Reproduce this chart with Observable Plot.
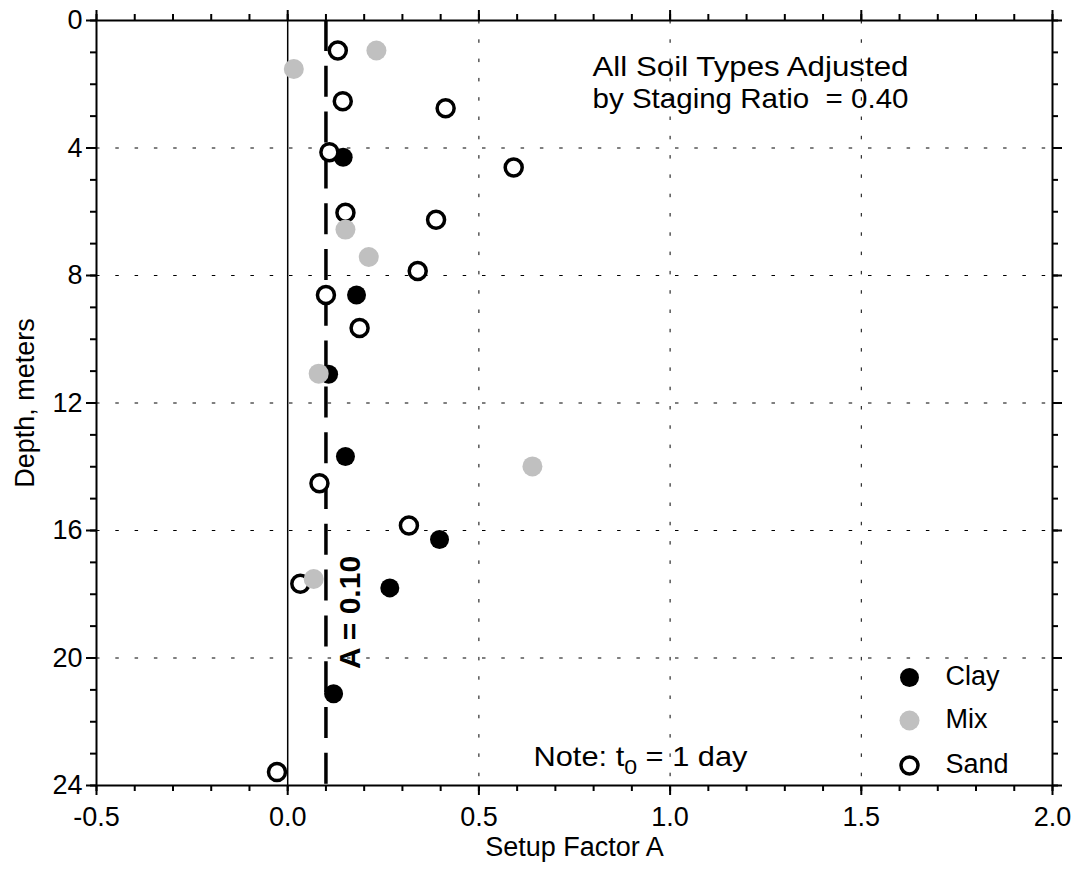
<!DOCTYPE html>
<html>
<head>
<meta charset="utf-8">
<script src="https://cdn.jsdelivr.net/npm/d3@7"></script>
<script src="https://cdn.jsdelivr.net/npm/@observablehq/plot@0.6"></script>
<style>
  body { margin: 0; background: #fff; }
  #chart svg { display: block; }
</style>
</head>
<body>
<div id="chart"></div>
<script>
// ---- Data (Setup Factor A vs depth in meters) ----
const clayA     = [0.145, 0.180, 0.107, 0.151, 0.397, 0.267, 0.120];
const clayDepth = [4.29, 8.61, 11.10, 13.68, 16.28, 17.80, 21.12];

const mixA      = [0.232, 0.016, 0.151, 0.212, 0.081, 0.640, 0.068];
const mixDepth  = [0.94, 1.52, 6.56, 7.42, 11.08, 13.99, 17.52];

const sandA     = [0.131, 0.144, 0.413, 0.109, 0.591, 0.151, 0.388, 0.340, 0.100, 0.188, 0.083, 0.317, 0.033, -0.028];
const sandDepth = [0.94, 2.53, 2.75, 4.13, 4.61, 6.03, 6.25, 7.86, 8.61, 9.65, 14.52, 15.84, 17.67, 23.58];

const soilTypes   = ["Clay", "Mix", "Sand"];
const xDomain     = [-0.5, 2.0];
const yDomain     = [0, 24];
const xMajorTicks = [-0.5, 0.0, 0.5, 1.0, 1.5, 2.0];
const yMajorTicks = [0, 4, 8, 12, 16, 20, 24];
const xGridTicks  = [0.5, 1.0, 1.5];
const yGridTicks  = [4, 8, 12, 16, 20];
const refA        = 0.10;
const refLabel    = "A = 0.10";
const noteText    = "Note: t0 = 1 day";
const annotLines  = ["All Soil Types Adjusted", "by Staging Ratio\u00a0 = 0.40"];
const xLabel      = "Setup Factor A";
const yLabel      = "Depth, meters";

// minor tick positions
const xMinorTicks = d3.range(-5, 21).map(i => i / 10);
const yMinorTicks = d3.range(0, 25);

const toRows = (type, A, D) => A.map((a, i) => ({type, A: a, depth: D[i]}));
const rows = {
  Clay: toRows("Clay", clayA, clayDepth),
  Mix:  toRows("Mix", mixA, mixDepth),
  Sand: toRows("Sand", sandA, sandDepth)
};

const symbolStyle = {
  Clay: {r: 9.5, fill: "#000000", stroke: "none", strokeWidth: 0},
  Mix:  {r: 10,  fill: "#c0c0c0", stroke: "none", strokeWidth: 0},
  Sand: {r: 8.5, fill: "#ffffff", stroke: "#000000", strokeWidth: 3.5}
};

const FONT = "'Liberation Sans', Arial, Helvetica, sans-serif";
const legendDy = {Clay: -108, Mix: -65, Sand: -20};
const [x0, x1] = xDomain;
const [y0, y1] = yDomain;

const marks = [
  // grid
  Plot.ruleX(xGridTicks, {stroke: "#000", strokeWidth: 1, strokeDasharray: "3.5,15.8"}),
  Plot.ruleY(yGridTicks, {stroke: "#000", strokeWidth: 1, strokeDasharray: "3.5,15.8"}),
  // reference lines
  Plot.ruleX([0], {stroke: "#000", strokeWidth: 1.5}),
  Plot.ruleX([refA], {stroke: "#000", strokeWidth: 3.5, strokeDasharray: "31,14.8"}),
  // data
  Plot.dot(rows.Clay, {x: "A", y: "depth", ...symbolStyle.Clay}),
  Plot.dot(rows.Sand, {x: "A", y: "depth", ...symbolStyle.Sand}),
  Plot.dot(rows.Mix,  {x: "A", y: "depth", ...symbolStyle.Mix}),
  Plot.text([refLabel], {x: refA, y: y1, dx: 24.5, dy: -173, rotate: -90,
    fontSize: 30, fontWeight: "bold", textAnchor: "middle", lineAnchor: "middle", fill: "#000"}),
  // ticks: bottom / top
  Plot.ruleX(xMinorTicks, {y1: y1, y2: y1, insetBottom: -6, strokeWidth: 2}),
  Plot.ruleX(xMajorTicks, {y1: y1, y2: y1, insetBottom: -10, strokeWidth: 2}),
  Plot.ruleX(xMinorTicks, {y1: y0, y2: y0, insetTop: -6, strokeWidth: 2}),
  Plot.ruleX(xMajorTicks, {y1: y0, y2: y0, insetTop: -10, strokeWidth: 2}),
  // ticks: left / right
  Plot.ruleY(yMinorTicks, {x1: x0, x2: x0, insetLeft: -6, strokeWidth: 2}),
  Plot.ruleY(yMajorTicks, {x1: x0, x2: x0, insetLeft: -10, strokeWidth: 2}),
  Plot.ruleY(yMinorTicks, {x1: x1, x2: x1, insetRight: -6, strokeWidth: 2}),
  Plot.ruleY(yMajorTicks, {x1: x1, x2: x1, insetRight: -10, strokeWidth: 2}),
  // tick labels
  Plot.text(xMajorTicks, {x: d => d, y: y1, dy: 21.5, lineAnchor: "top", text: d => d.toFixed(1),
    fontSize: 27, fill: "#000"}),
  Plot.text(yMajorTicks, {y: d => d, x: x0, dx: -14, textAnchor: "end", lineAnchor: "middle",
    text: d => String(d), fontSize: 27, fill: "#000"}),
  Plot.frame({stroke: "#000", strokeWidth: 2}),
  // axis titles
  Plot.text([xLabel], {frameAnchor: "bottom", dy: 70, textAnchor: "middle", lineAnchor: "bottom", fontSize: 27, fill: "#000"}),
  Plot.text([yLabel], {frameAnchor: "left", dx: -71, rotate: -90, textAnchor: "middle", lineAnchor: "middle", fontSize: 27, fill: "#000"}),
  // annotations
  Plot.text([annotLines[0]], {x: x0, y: y0, dx: 496, dy: 55, textAnchor: "start", lineAnchor: "bottom", fontSize: 28, fill: "#000"}),
  Plot.text([annotLines[1]], {x: x0, y: y0, dx: 496, dy: 87, textAnchor: "start", lineAnchor: "bottom", fontSize: 28, fill: "#000"}),
  Plot.text([noteText], {x: x0, y: y1, dx: 437, dy: -20, textAnchor: "start", lineAnchor: "bottom", fontSize: 28, fill: "#000"})
];

// legend (inside plot, bottom right)
for (const t of soilTypes) {
  marks.push(Plot.dot([t], {x: x1, y: y1, dx: -143, dy: legendDy[t], ...symbolStyle[t]}));
  marks.push(Plot.text([t], {x: x1, y: y1, dx: -107, dy: legendDy[t] - 1, textAnchor: "start",
    lineAnchor: "middle", fontSize: 27, fill: "#000"}));
}

const chart = Plot.plot({
  width: 1076,
  height: 882,
  marginLeft: 96,
  marginRight: 24,
  marginTop: 20,
  marginBottom: 97,
  style: {fontFamily: FONT, background: "#fff", color: "#000", overflow: "visible"},
  x: {domain: xDomain, axis: null},
  y: {domain: yDomain, reverse: true, axis: null},
  marks
});

// subscript in the note text, stretch annotation text to reference widths
d3.select(chart).selectAll("text").each(function () {
  const s = this.textContent;
  if (s === noteText) {
    const el = d3.select(this);
    el.text(null);
    el.append("tspan").text("Note: t");
    el.append("tspan").attr("font-size", 21).attr("dy", 8).text("0");
    el.append("tspan").attr("dy", -8).text(" = 1 day");
    el.attr("textLength", 214).attr("lengthAdjust", "spacingAndGlyphs");
  } else if (s === annotLines[0] || s === annotLines[1]) {
    d3.select(this).attr("textLength", 316).attr("lengthAdjust", "spacingAndGlyphs");
  }
});

document.getElementById("chart").appendChild(chart);
</script>
</body>
</html>
